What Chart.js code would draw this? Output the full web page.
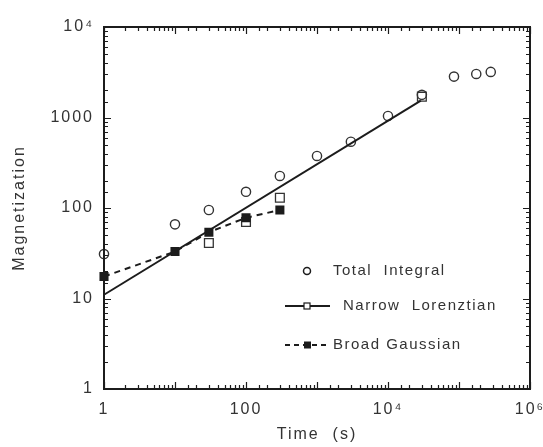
<!DOCTYPE html>
<html>
<head>
<meta charset="utf-8">
<script src="https://cdn.jsdelivr.net/npm/chart.js@4/dist/chart.umd.min.js"></script>
<style>
  html, body { margin: 0; padding: 0; background: #fff; }
  #wrap { width: 543px; height: 447px; }
</style>
</head>
<body>
<div id="wrap"><canvas id="chart" width="543" height="447"></canvas></div>
<script>
// data
const totalTime = [1, 10, 30, 100, 300, 1000, 3000, 10000, 30000, 85000, 175000, 280000];
const totalMag = [31, 66, 95, 151, 226, 376, 540, 1040, 1780, 2830, 3030, 3190];

const narrowTime = [30, 100, 300, 30000];
const narrowMag = [41, 70, 130, 1700];
const narrowFitTime = [1, 29000];
const narrowFitMag = [11, 1540];

const broadTime = [1, 10, 30, 100, 300];
const broadMag = [17.5, 33, 54, 78, 95];

const xLabels = { 1: '1', 100: '100', 10000: '10\u2074', 1000000: '10\u2076' };
const yLabels = { 1: '1', 10: '10', 100: '100', 1000: '1000', 10000: '10\u2074' };

const ink = '#1c1c1c';
const textInk = '#333';

const toPoints = (xs, ys) => xs.map((x, i) => ({ x: x, y: ys[i] }));

const isDecade = v => Math.abs(Math.log10(v) - Math.round(Math.log10(v))) < 1e-9;

// wider letter spacing like the scanned figure
const spacing = {
    id: 'spacing',
    beforeUpdate(chart) { chart.ctx.letterSpacing = '2px'; },
    beforeDraw(chart) { chart.ctx.letterSpacing = '2px'; }
};

// box frame + inward ticks on all four sides
const frame = {
    id: 'frame',
    afterDatasetsDraw(chart) {
        const { ctx, chartArea: a, scales } = chart;
        ctx.save();
        ctx.strokeStyle = ink;
        ctx.lineWidth = 1.2;
        ctx.beginPath();
        scales.x.ticks.forEach(t => {
            const px = Math.round(scales.x.getPixelForValue(t.value)) + 0.5;
            const len = isDecade(t.value) ? 7 : 4;
            ctx.moveTo(px, a.bottom); ctx.lineTo(px, a.bottom - len);
            ctx.moveTo(px, a.top); ctx.lineTo(px, a.top + len);
        });
        scales.y.ticks.forEach(t => {
            const py = Math.round(scales.y.getPixelForValue(t.value)) + 0.5;
            const len = isDecade(t.value) ? 7 : 4;
            ctx.moveTo(a.left, py); ctx.lineTo(a.left + len, py);
            ctx.moveTo(a.right, py); ctx.lineTo(a.right - len, py);
        });
        ctx.stroke();
        ctx.lineWidth = 2;
        ctx.strokeRect(a.left, a.top, a.right - a.left, a.bottom - a.top);
        ctx.restore();
    }
};

// legend sits inside the plot, lower right
const insideLegend = {
    id: 'insideLegend',
    afterDraw(chart) {
        const { ctx } = chart;
        ctx.save();
        ctx.letterSpacing = '1.5px';
        ctx.font = '15px "Liberation Sans", Arial, sans-serif';
        ctx.fillStyle = textInk;
        ctx.textBaseline = 'middle';
        ctx.strokeStyle = ink;

        // Total Integral
        ctx.lineWidth = 1.5;
        ctx.beginPath();
        ctx.arc(307, 271, 3.5, 0, Math.PI * 2);
        ctx.stroke();
        ctx.fillText('Total  Integral', 333, 271);

        // Narrow Lorenztian
        ctx.lineWidth = 2;
        ctx.beginPath();
        ctx.moveTo(285, 306); ctx.lineTo(330, 306);
        ctx.stroke();
        ctx.lineWidth = 1.2;
        ctx.fillStyle = '#fff';
        ctx.fillRect(304, 303, 6, 6);
        ctx.strokeRect(304, 303, 6, 6);
        ctx.fillStyle = textInk;
        ctx.fillText('Narrow  Lorenztian', 343, 306);

        // Broad Gaussian
        ctx.lineWidth = 2;
        ctx.setLineDash([5, 4]);
        ctx.beginPath();
        ctx.moveTo(285, 345); ctx.lineTo(326, 345);
        ctx.stroke();
        ctx.setLineDash([]);
        ctx.fillStyle = ink;
        ctx.fillRect(304, 341.5, 7, 7);
        ctx.fillStyle = textInk;
        ctx.fillText('Broad Gaussian', 333, 345);
        ctx.restore();
    }
};

const tickFont = { family: '"Liberation Sans", Arial, sans-serif', size: 16 };

new Chart(document.getElementById('chart'), {
    type: 'scatter',
    data: {
        datasets: [
            {
                label: 'Narrow Lorenztian fit',
                data: toPoints(narrowFitTime, narrowFitMag),
                showLine: true,
                borderColor: ink,
                borderWidth: 2,
                pointRadius: 0
            },
            {
                label: 'Broad Gaussian',
                data: toPoints(broadTime, broadMag),
                showLine: true,
                borderColor: ink,
                borderWidth: 2,
                borderDash: [6, 5],
                pointStyle: 'rect',
                pointRadius: 5,
                backgroundColor: ink,
                pointBorderColor: ink,
                pointBackgroundColor: ink
            },
            {
                label: 'Narrow Lorenztian',
                data: toPoints(narrowTime, narrowMag),
                pointStyle: 'rect',
                pointRadius: 6.2,
                pointBorderWidth: 1.3,
                pointBorderColor: '#333',
                pointBackgroundColor: 'rgba(0,0,0,0)'
            },
            {
                label: 'Total Integral',
                data: toPoints(totalTime, totalMag),
                pointStyle: 'circle',
                pointRadius: 4.6,
                pointBorderWidth: 1.4,
                pointBorderColor: '#333',
                pointBackgroundColor: 'rgba(0,0,0,0)'
            }
        ]
    },
    options: {
        responsive: false,
        animation: false,
        clip: false,
        layout: { padding: { top: 27, right: 13, left: 0, bottom: 0 } },
        plugins: {
            legend: { display: false },
            tooltip: { enabled: false }
        },
        scales: {
            x: {
                type: 'logarithmic',
                min: 1,
                max: 1000000,
                grid: { display: false, drawTicks: false },
                border: { display: false },
                ticks: {
                    autoSkip: false,
                    maxRotation: 0,
                    padding: 11,
                    color: textInk,
                    font: tickFont,
                    callback: v => xLabels[v] || ''
                },
                title: {
                    display: true,
                    text: 'Time  (s)',
                    color: textInk,
                    font: tickFont,
                    padding: { top: 0, bottom: 3 }
                },
                afterFit(s) {
                    s.height = 58;
                    s.paddingLeft = 0;
                    s.paddingRight = 0;
                }
            },
            y: {
                type: 'logarithmic',
                min: 1,
                max: 10000,
                grid: { display: false, drawTicks: false },
                border: { display: false },
                ticks: {
                    autoSkip: false,
                    padding: 10,
                    color: textInk,
                    font: tickFont,
                    callback: v => yLabels[v] || ''
                },
                title: {
                    display: true,
                    text: 'Magnetization',
                    color: textInk,
                    font: tickFont,
                    padding: { top: 10, bottom: 0 }
                },
                afterFit(s) {
                    s.width = 104;
                    s.paddingTop = 0;
                    s.paddingBottom = 0;
                }
            }
        }
    },
    plugins: [spacing, frame, insideLegend]
});
</script>
</body>
</html>
